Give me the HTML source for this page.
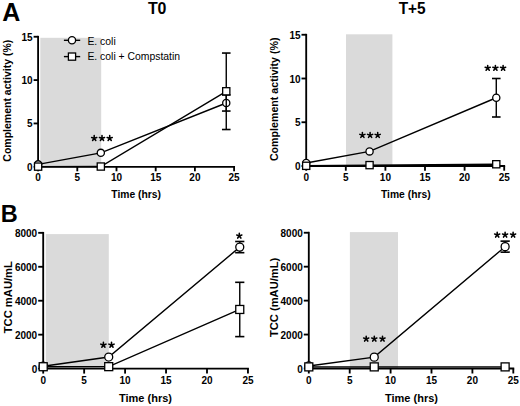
<!DOCTYPE html>
<html><head><meta charset="utf-8"><style>
html,body{margin:0;padding:0;background:#fff;width:520px;height:406px;overflow:hidden}
svg{display:block;font-family:"Liberation Sans", sans-serif}
</style></head><body>
<svg width="520" height="406" viewBox="0 0 520 406">
<rect width="520" height="406" fill="#fff"/>
<rect x="40.30" y="37.80" width="60.90" height="129.00" fill="#dadada"/>
<line x1="38.10" y1="35.83" x2="38.10" y2="167.73" stroke="#000" stroke-width="1.85"/>
<line x1="37.18" y1="166.80" x2="235.03" y2="166.80" stroke="#000" stroke-width="1.85"/>
<line x1="33.60" y1="166.80" x2="38.10" y2="166.80" stroke="#000" stroke-width="1.85"/>
<text x="32.60" y="170.70" font-size="10" text-anchor="end" font-weight="bold" >0</text>
<line x1="33.60" y1="123.45" x2="38.10" y2="123.45" stroke="#000" stroke-width="1.85"/>
<text x="32.60" y="127.35" font-size="10" text-anchor="end" font-weight="bold" >5</text>
<line x1="33.60" y1="80.10" x2="38.10" y2="80.10" stroke="#000" stroke-width="1.85"/>
<text x="32.60" y="84.00" font-size="10" text-anchor="end" font-weight="bold" >10</text>
<line x1="33.60" y1="36.75" x2="38.10" y2="36.75" stroke="#000" stroke-width="1.85"/>
<text x="32.60" y="40.65" font-size="10" text-anchor="end" font-weight="bold" >15</text>
<line x1="38.10" y1="166.80" x2="38.10" y2="171.30" stroke="#000" stroke-width="1.85"/>
<text x="38.10" y="181.30" font-size="10" text-anchor="middle" font-weight="bold" >0</text>
<line x1="77.30" y1="166.80" x2="77.30" y2="171.30" stroke="#000" stroke-width="1.85"/>
<text x="77.30" y="181.30" font-size="10" text-anchor="middle" font-weight="bold" >5</text>
<line x1="116.50" y1="166.80" x2="116.50" y2="171.30" stroke="#000" stroke-width="1.85"/>
<text x="116.50" y="181.30" font-size="10" text-anchor="middle" font-weight="bold" >10</text>
<line x1="155.70" y1="166.80" x2="155.70" y2="171.30" stroke="#000" stroke-width="1.85"/>
<text x="155.70" y="181.30" font-size="10" text-anchor="middle" font-weight="bold" >15</text>
<line x1="194.90" y1="166.80" x2="194.90" y2="171.30" stroke="#000" stroke-width="1.85"/>
<text x="194.90" y="181.30" font-size="10" text-anchor="middle" font-weight="bold" >20</text>
<line x1="234.10" y1="166.80" x2="234.10" y2="171.30" stroke="#000" stroke-width="1.85"/>
<text x="234.10" y="181.30" font-size="10" text-anchor="middle" font-weight="bold" >25</text>
<line x1="226.26" y1="94.93" x2="226.26" y2="111.05" stroke="#000" stroke-width="1.4"/>
<line x1="221.96" y1="94.93" x2="230.56" y2="94.93" stroke="#000" stroke-width="1.5999999999999999"/>
<line x1="221.96" y1="111.05" x2="230.56" y2="111.05" stroke="#000" stroke-width="1.5999999999999999"/>
<path d="M38.10,164.37 L100.82,152.84 L226.26,102.99" fill="none" stroke="#000" stroke-width="1.4"/>
<circle cx="38.10" cy="164.37" r="3.6" fill="#fff" stroke="#000" stroke-width="1.3"/>
<circle cx="100.82" cy="152.84" r="3.6" fill="#fff" stroke="#000" stroke-width="1.3"/>
<circle cx="226.26" cy="102.99" r="3.6" fill="#fff" stroke="#000" stroke-width="1.3"/>
<line x1="226.26" y1="53.05" x2="226.26" y2="129.52" stroke="#000" stroke-width="1.4"/>
<line x1="221.96" y1="53.05" x2="230.56" y2="53.05" stroke="#000" stroke-width="1.5999999999999999"/>
<line x1="221.96" y1="129.52" x2="230.56" y2="129.52" stroke="#000" stroke-width="1.5999999999999999"/>
<path d="M38.10,166.63 L100.82,166.54 L226.26,91.28" fill="none" stroke="#000" stroke-width="1.4"/>
<rect x="34.50" y="163.03" width="7.2" height="7.2" fill="#fff" stroke="#000" stroke-width="1.3"/>
<rect x="97.22" y="162.94" width="7.2" height="7.2" fill="#fff" stroke="#000" stroke-width="1.3"/>
<rect x="222.66" y="87.68" width="7.2" height="7.2" fill="#fff" stroke="#000" stroke-width="1.3"/>
<path d="M94.20,138.30L94.20,135.60M94.20,138.30L96.77,137.47M94.20,138.30L95.79,140.48M94.20,138.30L92.61,140.48M94.20,138.30L91.63,137.47" stroke="#000" stroke-width="1.55" stroke-linecap="round" fill="none"/>
<path d="M102.00,138.30L102.00,135.60M102.00,138.30L104.57,137.47M102.00,138.30L103.59,140.48M102.00,138.30L100.41,140.48M102.00,138.30L99.43,137.47" stroke="#000" stroke-width="1.55" stroke-linecap="round" fill="none"/>
<path d="M109.70,138.30L109.70,135.60M109.70,138.30L112.27,137.47M109.70,138.30L111.29,140.48M109.70,138.30L108.11,140.48M109.70,138.30L107.13,137.47" stroke="#000" stroke-width="1.55" stroke-linecap="round" fill="none"/>
<text x="136.10" y="197.80" font-size="10.3" text-anchor="middle" font-weight="bold" >Time (hrs)</text>
<text transform="translate(11.1,100.7) rotate(-90)" font-size="10.5" text-anchor="middle" font-weight="bold">Complement activity (%)</text>
<rect x="346.00" y="34.30" width="46.40" height="131.70" fill="#dadada"/>
<line x1="306.20" y1="33.83" x2="306.20" y2="166.93" stroke="#000" stroke-width="1.85"/>
<line x1="305.27" y1="166.00" x2="505.12" y2="166.00" stroke="#000" stroke-width="1.85"/>
<line x1="301.50" y1="166.00" x2="306.20" y2="166.00" stroke="#000" stroke-width="1.85"/>
<text x="300.50" y="170.00" font-size="10" text-anchor="end" font-weight="bold" >0</text>
<line x1="301.50" y1="122.25" x2="306.20" y2="122.25" stroke="#000" stroke-width="1.85"/>
<text x="300.50" y="126.25" font-size="10" text-anchor="end" font-weight="bold" >5</text>
<line x1="301.50" y1="78.50" x2="306.20" y2="78.50" stroke="#000" stroke-width="1.85"/>
<text x="300.50" y="82.50" font-size="10" text-anchor="end" font-weight="bold" >10</text>
<line x1="301.50" y1="34.75" x2="306.20" y2="34.75" stroke="#000" stroke-width="1.85"/>
<text x="300.50" y="38.75" font-size="10" text-anchor="end" font-weight="bold" >15</text>
<line x1="306.20" y1="166.00" x2="306.20" y2="170.70" stroke="#000" stroke-width="1.85"/>
<text x="306.20" y="181.00" font-size="10" text-anchor="middle" font-weight="bold" >0</text>
<line x1="345.80" y1="166.00" x2="345.80" y2="170.70" stroke="#000" stroke-width="1.85"/>
<text x="345.80" y="181.00" font-size="10" text-anchor="middle" font-weight="bold" >5</text>
<line x1="385.40" y1="166.00" x2="385.40" y2="170.70" stroke="#000" stroke-width="1.85"/>
<text x="385.40" y="181.00" font-size="10" text-anchor="middle" font-weight="bold" >10</text>
<line x1="425.00" y1="166.00" x2="425.00" y2="170.70" stroke="#000" stroke-width="1.85"/>
<text x="425.00" y="181.00" font-size="10" text-anchor="middle" font-weight="bold" >15</text>
<line x1="464.60" y1="166.00" x2="464.60" y2="170.70" stroke="#000" stroke-width="1.85"/>
<text x="464.60" y="181.00" font-size="10" text-anchor="middle" font-weight="bold" >20</text>
<line x1="504.20" y1="166.00" x2="504.20" y2="170.70" stroke="#000" stroke-width="1.85"/>
<text x="504.20" y="181.00" font-size="10" text-anchor="middle" font-weight="bold" >25</text>
<line x1="496.28" y1="78.50" x2="496.28" y2="117.00" stroke="#000" stroke-width="1.4"/>
<line x1="491.98" y1="78.50" x2="500.58" y2="78.50" stroke="#000" stroke-width="1.5999999999999999"/>
<line x1="491.98" y1="117.00" x2="500.58" y2="117.00" stroke="#000" stroke-width="1.5999999999999999"/>
<path d="M306.20,162.94 L369.56,151.39 L496.28,97.75" fill="none" stroke="#000" stroke-width="1.4"/>
<circle cx="306.20" cy="162.94" r="3.6" fill="#fff" stroke="#000" stroke-width="1.3"/>
<circle cx="369.56" cy="151.39" r="3.6" fill="#fff" stroke="#000" stroke-width="1.3"/>
<circle cx="496.28" cy="97.75" r="3.6" fill="#fff" stroke="#000" stroke-width="1.3"/>
<path d="M306.20,165.82 L369.56,165.12 L496.28,164.25" fill="none" stroke="#000" stroke-width="1.4"/>
<rect x="302.60" y="162.22" width="7.2" height="7.2" fill="#fff" stroke="#000" stroke-width="1.3"/>
<rect x="365.96" y="161.53" width="7.2" height="7.2" fill="#fff" stroke="#000" stroke-width="1.3"/>
<rect x="492.68" y="160.65" width="7.2" height="7.2" fill="#fff" stroke="#000" stroke-width="1.3"/>
<path d="M362.40,135.20L362.40,132.50M362.40,135.20L364.97,134.37M362.40,135.20L363.99,137.38M362.40,135.20L360.81,137.38M362.40,135.20L359.83,134.37" stroke="#000" stroke-width="1.55" stroke-linecap="round" fill="none"/>
<path d="M370.10,135.20L370.10,132.50M370.10,135.20L372.67,134.37M370.10,135.20L371.69,137.38M370.10,135.20L368.51,137.38M370.10,135.20L367.53,134.37" stroke="#000" stroke-width="1.55" stroke-linecap="round" fill="none"/>
<path d="M377.70,135.20L377.70,132.50M377.70,135.20L380.27,134.37M377.70,135.20L379.29,137.38M377.70,135.20L376.11,137.38M377.70,135.20L375.13,134.37" stroke="#000" stroke-width="1.55" stroke-linecap="round" fill="none"/>
<path d="M487.70,68.10L487.70,65.40M487.70,68.10L490.27,67.27M487.70,68.10L489.29,70.28M487.70,68.10L486.11,70.28M487.70,68.10L485.13,67.27" stroke="#000" stroke-width="1.55" stroke-linecap="round" fill="none"/>
<path d="M495.40,68.10L495.40,65.40M495.40,68.10L497.97,67.27M495.40,68.10L496.99,70.28M495.40,68.10L493.81,70.28M495.40,68.10L492.83,67.27" stroke="#000" stroke-width="1.55" stroke-linecap="round" fill="none"/>
<path d="M503.10,68.10L503.10,65.40M503.10,68.10L505.67,67.27M503.10,68.10L504.69,70.28M503.10,68.10L501.51,70.28M503.10,68.10L500.53,67.27" stroke="#000" stroke-width="1.55" stroke-linecap="round" fill="none"/>
<text x="405.80" y="197.80" font-size="10.3" text-anchor="middle" font-weight="bold" >Time (hrs)</text>
<text transform="translate(278.2,99.3) rotate(-90)" font-size="10.65" text-anchor="middle" font-weight="bold">Complement activity (%)</text>
<rect x="45.80" y="234.10" width="63.00" height="134.50" fill="#dadada"/>
<line x1="43.20" y1="231.92" x2="43.20" y2="369.53" stroke="#000" stroke-width="1.85"/>
<line x1="42.28" y1="368.60" x2="248.88" y2="368.60" stroke="#000" stroke-width="1.85"/>
<line x1="38.20" y1="368.60" x2="43.20" y2="368.60" stroke="#000" stroke-width="1.85"/>
<text x="37.20" y="372.60" font-size="10" text-anchor="end" font-weight="bold" >0</text>
<line x1="38.20" y1="334.66" x2="43.20" y2="334.66" stroke="#000" stroke-width="1.85"/>
<text x="37.20" y="338.66" font-size="10" text-anchor="end" font-weight="bold" >2000</text>
<line x1="38.20" y1="300.72" x2="43.20" y2="300.72" stroke="#000" stroke-width="1.85"/>
<text x="37.20" y="304.72" font-size="10" text-anchor="end" font-weight="bold" >4000</text>
<line x1="38.20" y1="266.78" x2="43.20" y2="266.78" stroke="#000" stroke-width="1.85"/>
<text x="37.20" y="270.78" font-size="10" text-anchor="end" font-weight="bold" >6000</text>
<line x1="38.20" y1="232.84" x2="43.20" y2="232.84" stroke="#000" stroke-width="1.85"/>
<text x="37.20" y="236.84" font-size="10" text-anchor="end" font-weight="bold" >8000</text>
<line x1="43.20" y1="368.60" x2="43.20" y2="373.60" stroke="#000" stroke-width="1.85"/>
<text x="43.20" y="383.70" font-size="10" text-anchor="middle" font-weight="bold" >0</text>
<line x1="84.15" y1="368.60" x2="84.15" y2="373.60" stroke="#000" stroke-width="1.85"/>
<text x="84.15" y="383.70" font-size="10" text-anchor="middle" font-weight="bold" >5</text>
<line x1="125.10" y1="368.60" x2="125.10" y2="373.60" stroke="#000" stroke-width="1.85"/>
<text x="125.10" y="383.70" font-size="10" text-anchor="middle" font-weight="bold" >10</text>
<line x1="166.05" y1="368.60" x2="166.05" y2="373.60" stroke="#000" stroke-width="1.85"/>
<text x="166.05" y="383.70" font-size="10" text-anchor="middle" font-weight="bold" >15</text>
<line x1="207.00" y1="368.60" x2="207.00" y2="373.60" stroke="#000" stroke-width="1.85"/>
<text x="207.00" y="383.70" font-size="10" text-anchor="middle" font-weight="bold" >20</text>
<line x1="247.95" y1="368.60" x2="247.95" y2="373.60" stroke="#000" stroke-width="1.85"/>
<text x="247.95" y="383.70" font-size="10" text-anchor="middle" font-weight="bold" >25</text>
<line x1="239.76" y1="241.49" x2="239.76" y2="252.69" stroke="#000" stroke-width="1.4"/>
<line x1="235.16" y1="241.49" x2="244.36" y2="241.49" stroke="#000" stroke-width="1.5999999999999999"/>
<line x1="235.16" y1="252.69" x2="244.36" y2="252.69" stroke="#000" stroke-width="1.5999999999999999"/>
<path d="M43.20,366.22 L108.72,357.06 L239.76,247.09" fill="none" stroke="#000" stroke-width="1.4"/>
<circle cx="43.20" cy="366.22" r="4.0" fill="#fff" stroke="#000" stroke-width="1.3"/>
<circle cx="108.72" cy="357.06" r="4.0" fill="#fff" stroke="#000" stroke-width="1.3"/>
<circle cx="239.76" cy="247.09" r="4.0" fill="#fff" stroke="#000" stroke-width="1.3"/>
<line x1="239.76" y1="282.31" x2="239.76" y2="336.61" stroke="#000" stroke-width="1.4"/>
<line x1="235.16" y1="282.31" x2="244.36" y2="282.31" stroke="#000" stroke-width="1.5999999999999999"/>
<line x1="235.16" y1="336.61" x2="244.36" y2="336.61" stroke="#000" stroke-width="1.5999999999999999"/>
<path d="M43.20,366.73 L108.72,366.65 L239.76,309.46" fill="none" stroke="#000" stroke-width="1.4"/>
<rect x="39.20" y="362.73" width="8.0" height="8.0" fill="#fff" stroke="#000" stroke-width="1.3"/>
<rect x="104.72" y="362.65" width="8.0" height="8.0" fill="#fff" stroke="#000" stroke-width="1.3"/>
<rect x="235.76" y="305.46" width="8.0" height="8.0" fill="#fff" stroke="#000" stroke-width="1.3"/>
<path d="M103.40,345.00L103.40,342.30M103.40,345.00L105.97,344.17M103.40,345.00L104.99,347.18M103.40,345.00L101.81,347.18M103.40,345.00L100.83,344.17" stroke="#000" stroke-width="1.55" stroke-linecap="round" fill="none"/>
<path d="M111.50,345.00L111.50,342.30M111.50,345.00L114.07,344.17M111.50,345.00L113.09,347.18M111.50,345.00L109.91,347.18M111.50,345.00L108.93,344.17" stroke="#000" stroke-width="1.55" stroke-linecap="round" fill="none"/>
<path d="M239.30,235.90L239.30,233.20M239.30,235.90L241.87,235.07M239.30,235.90L240.89,238.08M239.30,235.90L237.71,238.08M239.30,235.90L236.73,235.07" stroke="#000" stroke-width="1.55" stroke-linecap="round" fill="none"/>
<text x="145.50" y="401.80" font-size="11" text-anchor="middle" font-weight="bold" >Time (hrs)</text>
<text transform="translate(12.3,297.2) rotate(-90)" font-size="11.2" text-anchor="middle" font-weight="bold">TCC mAU/mL</text>
<rect x="349.90" y="232.10" width="48.10" height="136.40" fill="#dadada"/>
<line x1="308.80" y1="231.81" x2="308.80" y2="369.43" stroke="#000" stroke-width="1.85"/>
<line x1="307.88" y1="368.50" x2="514.22" y2="368.50" stroke="#000" stroke-width="1.85"/>
<line x1="303.80" y1="368.50" x2="308.80" y2="368.50" stroke="#000" stroke-width="1.85"/>
<text x="302.80" y="372.50" font-size="10" text-anchor="end" font-weight="bold" >0</text>
<line x1="303.80" y1="334.56" x2="308.80" y2="334.56" stroke="#000" stroke-width="1.85"/>
<text x="302.80" y="338.56" font-size="10" text-anchor="end" font-weight="bold" >2000</text>
<line x1="303.80" y1="300.62" x2="308.80" y2="300.62" stroke="#000" stroke-width="1.85"/>
<text x="302.80" y="304.62" font-size="10" text-anchor="end" font-weight="bold" >4000</text>
<line x1="303.80" y1="266.68" x2="308.80" y2="266.68" stroke="#000" stroke-width="1.85"/>
<text x="302.80" y="270.68" font-size="10" text-anchor="end" font-weight="bold" >6000</text>
<line x1="303.80" y1="232.74" x2="308.80" y2="232.74" stroke="#000" stroke-width="1.85"/>
<text x="302.80" y="236.74" font-size="10" text-anchor="end" font-weight="bold" >8000</text>
<line x1="308.80" y1="368.50" x2="308.80" y2="373.50" stroke="#000" stroke-width="1.85"/>
<text x="308.80" y="383.70" font-size="10" text-anchor="middle" font-weight="bold" >0</text>
<line x1="349.70" y1="368.50" x2="349.70" y2="373.50" stroke="#000" stroke-width="1.85"/>
<text x="349.70" y="383.70" font-size="10" text-anchor="middle" font-weight="bold" >5</text>
<line x1="390.60" y1="368.50" x2="390.60" y2="373.50" stroke="#000" stroke-width="1.85"/>
<text x="390.60" y="383.70" font-size="10" text-anchor="middle" font-weight="bold" >10</text>
<line x1="431.50" y1="368.50" x2="431.50" y2="373.50" stroke="#000" stroke-width="1.85"/>
<text x="431.50" y="383.70" font-size="10" text-anchor="middle" font-weight="bold" >15</text>
<line x1="472.40" y1="368.50" x2="472.40" y2="373.50" stroke="#000" stroke-width="1.85"/>
<text x="472.40" y="383.70" font-size="10" text-anchor="middle" font-weight="bold" >20</text>
<line x1="513.30" y1="368.50" x2="513.30" y2="373.50" stroke="#000" stroke-width="1.85"/>
<text x="513.30" y="383.70" font-size="10" text-anchor="middle" font-weight="bold" >25</text>
<line x1="505.12" y1="241.14" x2="505.12" y2="252.17" stroke="#000" stroke-width="1.4"/>
<line x1="500.52" y1="241.14" x2="509.72" y2="241.14" stroke="#000" stroke-width="1.5999999999999999"/>
<line x1="500.52" y1="252.17" x2="509.72" y2="252.17" stroke="#000" stroke-width="1.5999999999999999"/>
<path d="M308.80,365.95 L374.24,357.13 L505.12,246.66" fill="none" stroke="#000" stroke-width="1.4"/>
<circle cx="308.80" cy="365.95" r="4.0" fill="#fff" stroke="#000" stroke-width="1.3"/>
<circle cx="374.24" cy="357.13" r="4.0" fill="#fff" stroke="#000" stroke-width="1.3"/>
<circle cx="505.12" cy="246.66" r="4.0" fill="#fff" stroke="#000" stroke-width="1.3"/>
<path d="M308.80,366.89 L374.24,366.89 L505.12,366.89" fill="none" stroke="#000" stroke-width="1.4"/>
<rect x="304.80" y="362.89" width="8.0" height="8.0" fill="#fff" stroke="#000" stroke-width="1.3"/>
<rect x="370.24" y="362.89" width="8.0" height="8.0" fill="#fff" stroke="#000" stroke-width="1.3"/>
<rect x="501.12" y="362.89" width="8.0" height="8.0" fill="#fff" stroke="#000" stroke-width="1.3"/>
<path d="M366.20,338.90L366.20,336.20M366.20,338.90L368.77,338.07M366.20,338.90L367.79,341.08M366.20,338.90L364.61,341.08M366.20,338.90L363.63,338.07" stroke="#000" stroke-width="1.55" stroke-linecap="round" fill="none"/>
<path d="M374.30,338.90L374.30,336.20M374.30,338.90L376.87,338.07M374.30,338.90L375.89,341.08M374.30,338.90L372.71,341.08M374.30,338.90L371.73,338.07" stroke="#000" stroke-width="1.55" stroke-linecap="round" fill="none"/>
<path d="M382.50,338.90L382.50,336.20M382.50,338.90L385.07,338.07M382.50,338.90L384.09,341.08M382.50,338.90L380.91,341.08M382.50,338.90L379.93,338.07" stroke="#000" stroke-width="1.55" stroke-linecap="round" fill="none"/>
<path d="M497.20,234.90L497.20,232.20M497.20,234.90L499.77,234.07M497.20,234.90L498.79,237.08M497.20,234.90L495.61,237.08M497.20,234.90L494.63,234.07" stroke="#000" stroke-width="1.55" stroke-linecap="round" fill="none"/>
<path d="M505.10,234.90L505.10,232.20M505.10,234.90L507.67,234.07M505.10,234.90L506.69,237.08M505.10,234.90L503.51,237.08M505.10,234.90L502.53,234.07" stroke="#000" stroke-width="1.55" stroke-linecap="round" fill="none"/>
<path d="M513.10,234.90L513.10,232.20M513.10,234.90L515.67,234.07M513.10,234.90L514.69,237.08M513.10,234.90L511.51,237.08M513.10,234.90L510.53,234.07" stroke="#000" stroke-width="1.55" stroke-linecap="round" fill="none"/>
<text x="411.50" y="401.80" font-size="11" text-anchor="middle" font-weight="bold" >Time (hrs)</text>
<text transform="translate(278.2,297.4) rotate(-90)" font-size="11.15" text-anchor="middle" font-weight="bold">TCC (mAU/mL)</text>
<line x1="63.90" y1="40.30" x2="80.20" y2="40.30" stroke="#000" stroke-width="1.4"/>
<circle cx="72" cy="40.3" r="3.6" fill="#fff" stroke="#000" stroke-width="1.3"/>
<line x1="63.90" y1="56.60" x2="80.20" y2="56.60" stroke="#000" stroke-width="1.4"/>
<rect x="68.4" y="53.0" width="7.2" height="7.2" fill="#fff" stroke="#000" stroke-width="1.3"/>
<text x="87.40" y="44.50" font-size="10.4" text-anchor="start" font-weight="normal" >E. coli</text>
<text x="87.40" y="60.30" font-size="10.4" text-anchor="start" font-weight="normal" >E. coli + Compstatin</text>
<text x="2.30" y="20.80" font-size="25" text-anchor="start" font-weight="bold" >A</text>
<text x="157.20" y="13.70" font-size="17" text-anchor="middle" font-weight="bold" textLength="18.6" lengthAdjust="spacingAndGlyphs">T0</text>
<text x="412.20" y="13.70" font-size="17" text-anchor="middle" font-weight="bold" textLength="27" lengthAdjust="spacingAndGlyphs">T+5</text>
<text x="0.80" y="222.30" font-size="23.5" text-anchor="start" font-weight="bold" >B</text>
</svg>
</body></html>
